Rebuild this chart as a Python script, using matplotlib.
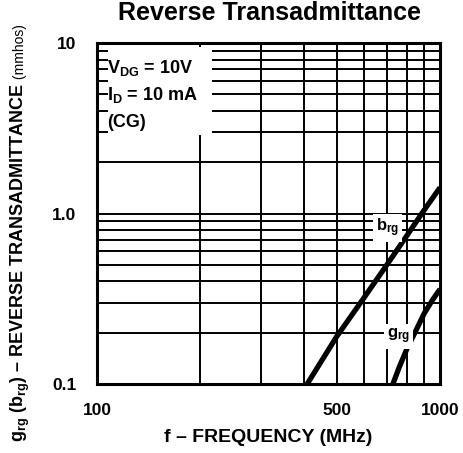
import matplotlib
matplotlib.use("Agg")
import matplotlib.pyplot as plt
from matplotlib.patches import Rectangle
from matplotlib.ticker import FixedLocator, NullFormatter, LogLocator
import matplotlib.font_manager as fm

names = sorted({f.name for f in fm.fontManager.ttflist})
FAM = "Liberation Sans Narrow" if "Liberation Sans Narrow" in names else "Liberation Sans"

plt.rcParams['font.family'] = [FAM, 'DejaVu Sans']
plt.rcParams['mathtext.fontset'] = 'custom'
plt.rcParams['mathtext.rm'] = FAM
plt.rcParams['mathtext.bf'] = FAM + ':bold'
plt.rcParams['mathtext.it'] = FAM + ':italic'

# data
brg_freq = [410, 500, 600, 700, 800, 900, 1000]
brg_vals = [0.10, 0.19, 0.32, 0.50, 0.74, 1.05, 1.42]
grg_freq = [729, 760, 800, 845, 900, 950, 1000]
grg_vals = [0.10, 0.125, 0.16, 0.20, 0.26, 0.31, 0.36]
x_ticks = [100, 500, 1000]
x_ticklabels = ["100", "500", "1000"]
y_ticks = [0.1, 1.0, 10]
y_ticklabels = ["0.1", "1.0", "10"]

W, H = 464, 453
fig = plt.figure(figsize=(W / 100, H / 100), dpi=100)
ax = fig.add_axes([97 / W, 1 - 384 / H, 343 / W, 341 / H])
ax.set_xscale('log')
ax.set_yscale('log')
ax.set_xlim(100, 1000)
ax.set_ylim(0.1, 10)

ax.xaxis.set_major_locator(FixedLocator(x_ticks))
ax.set_xticklabels(x_ticklabels)
ax.yaxis.set_major_locator(FixedLocator(y_ticks))
ax.set_yticklabels(y_ticklabels)
ax.xaxis.set_minor_locator(LogLocator(base=10, subs=range(2, 10)))
ax.yaxis.set_minor_locator(LogLocator(base=10, subs=range(2, 10)))
ax.xaxis.set_minor_formatter(NullFormatter())
ax.yaxis.set_minor_formatter(NullFormatter())
ax.tick_params(which='both', length=0)
ax.tick_params(axis='x', pad=14, labelsize=12.5)
ax.tick_params(axis='y', pad=15, labelsize=12.5)
for lab in ax.get_xticklabels() + ax.get_yticklabels():
    lab.set_fontweight('bold')

ax.grid(which='both', color='black', lw=1.4)
for s in ax.spines.values():
    s.set_linewidth(2.2)
    s.set_zorder(5)

# white mask behind the condition annotations
ax.add_patch(Rectangle((0.032, 0.730), 0.303, 0.258, transform=ax.transAxes,
                       facecolor='white', edgecolor='none', zorder=2))

ax.plot(brg_freq, brg_vals, color='black', lw=3.8, solid_capstyle='butt', zorder=3)
ax.plot(grg_freq, grg_vals, color='black', lw=3.8, solid_capstyle='butt', zorder=3)

tkw = dict(transform=ax.transAxes, fontsize=13, fontweight='bold', va='center', ha='left', zorder=4)
ax.text(0.029, 0.927, r'V$_{\mathbf{DG}}$ = 10V', **tkw)
ax.text(0.029, 0.848, r'I$_{\mathbf{D}}$ = 10 mA', **tkw)
ax.text(0.029, 0.768, '(CG)', **tkw)

lkw = dict(fontsize=12, fontweight='bold', va='center', ha='left', zorder=4,
           bbox=dict(facecolor='white', edgecolor='none', pad=2))
ax.text(650, 0.82, r'b$_{\mathbf{rg}}$', **lkw)
ax.text(700, 0.19, r'g$_{\mathbf{rg}}$', **lkw)

fig.text(270 / W, 1 - 1 / H, 'Reverse Transadmittance', fontsize=18, fontweight='bold',
         ha='center', va='top')
fig.text(268 / W, 1 - 437 / H, 'f – FREQUENCY (MHz)', fontsize=14, fontweight='bold',
         ha='center', va='center')

yl = fig.text(20 / W, 1 - 442 / H,
              r'$\mathbf{g_{rg}}$ ($\mathbf{b_{rg}}$) – REVERSE TRANSADMITTANCE',
              rotation=90, fontsize=13, fontweight='bold', ha='center', va='bottom')
fig.add_artist(plt.Annotation(' (mmhos)', xy=(0.5, 1.0), xycoords=yl, rotation=90,
                              fontsize=10, ha='center', va='bottom',
                              annotation_clip=False))

fig.savefig('out.png', dpi=100)
